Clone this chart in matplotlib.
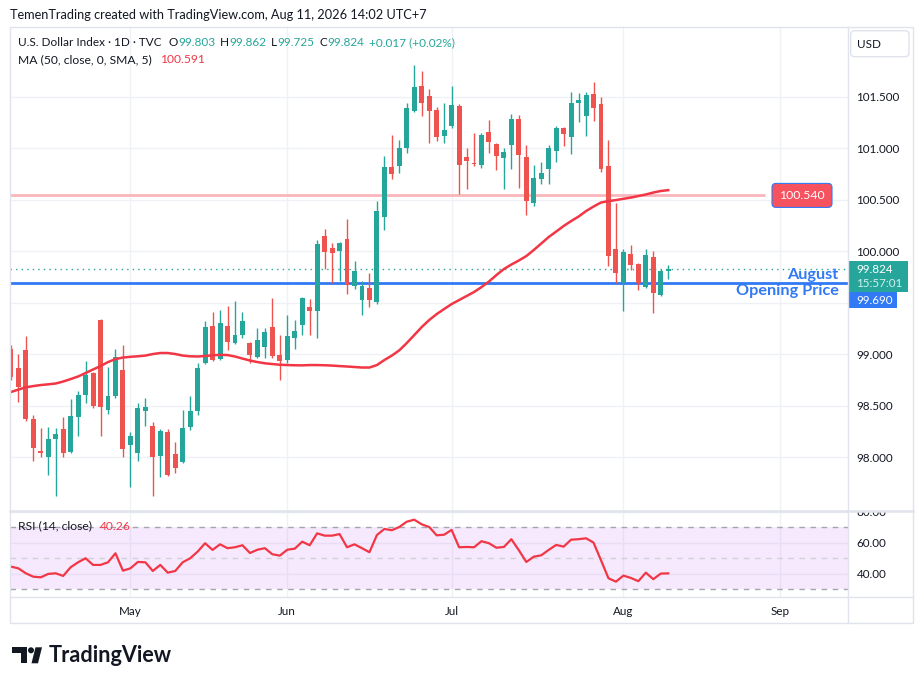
import numpy as np
import pandas as pd
import matplotlib
matplotlib.use('Agg')
import matplotlib.pyplot as plt
from matplotlib.patches import Rectangle, FancyBboxPatch, Circle, Polygon

plt.rcParams['font.family'] = ['Lato', 'DejaVu Sans']

# daily candles, U.S. Dollar Index (TVC), 9 Apr - 11 Aug 2026
dates = pd.bdate_range('2026-04-09', periods=89)
opens = [99.049, 98.864, 99.039, 98.369, 98.058, 98.000, 98.175, 98.272, 98.049, 98.388,
         98.602, 98.816, 99.330, 98.456, 98.592, 98.845, 98.117, 98.039, 98.447, 98.301,
         98.010, 98.243, 98.029, 97.951, 98.291, 98.447, 98.913, 99.272, 98.951, 99.272,
         99.107, 99.184, 99.107, 98.971, 99.068, 99.262, 98.990, 98.942, 99.155, 99.282,
         99.456, 99.417, 100.146, 100.029, 100.000, 100.117, 99.660, 99.524, 99.641, 99.505,
         100.330, 100.816, 100.825, 101.000, 101.359, 101.602, 101.505, 101.369, 101.117, 101.214,
         101.408, 100.913, 100.854, 100.835, 101.155, 101.039, 100.903, 101.029, 101.282, 100.913,
         100.466, 100.699, 100.796, 100.971, 101.194, 101.107, 101.437, 101.311, 101.524, 101.427,
         100.825, 100.019, 99.689, 99.971, 99.874, 99.650, 99.942, 99.573, 99.803]
highs = [99.087, 99.000, 99.175, 98.408, 98.282, 98.291, 98.282, 98.388, 98.563, 98.641,
         98.932, 98.825, 99.340, 98.874, 99.049, 99.087, 98.243, 98.524, 98.573, 98.340,
         98.272, 98.272, 98.146, 98.456, 98.592, 98.913, 99.320, 99.408, 99.427, 99.466,
         99.515, 99.408, 99.117, 99.252, 99.252, 99.544, 99.184, 99.379, 99.330, 99.553,
         99.534, 100.107, 100.214, 100.078, 100.087, 100.311, 99.903, 99.709, 99.786, 100.485,
         100.922, 101.126, 101.078, 101.437, 101.806, 101.748, 101.573, 101.398, 101.437, 101.602,
         101.427, 101.000, 101.146, 101.146, 101.272, 101.045, 101.000, 101.330, 101.320, 101.029,
         100.835, 100.864, 101.029, 101.214, 101.204, 101.544, 101.534, 101.544, 101.641, 101.495,
         101.078, 100.466, 100.019, 100.058, 99.880, 100.019, 100.000, 99.825, 99.862]
lows = [98.748, 98.534, 98.350, 97.961, 98.000, 97.825, 97.621, 98.000, 98.039, 98.204,
        98.524, 98.476, 98.204, 98.417, 98.573, 98.000, 97.709, 97.961, 98.301, 97.621,
        97.806, 97.816, 97.845, 97.942, 98.262, 98.408, 98.903, 98.932, 98.942, 99.039,
        99.097, 99.155, 98.913, 98.961, 98.961, 98.961, 98.748, 98.913, 99.049, 99.184,
        99.184, 99.155, 99.825, 99.689, 99.709, 99.583, 99.631, 99.379, 99.456, 99.485,
        100.204, 100.699, 100.757, 100.951, 101.350, 101.311, 101.049, 101.068, 101.049, 101.194,
        100.553, 100.602, 100.825, 100.806, 100.951, 100.786, 100.602, 100.796, 100.612, 100.350,
        100.437, 100.650, 100.650, 100.864, 101.019, 100.942, 101.252, 101.117, 101.262, 100.767,
        99.854, 99.689, 99.417, 99.816, 99.621, 99.641, 99.398, 99.563, 99.725]
closes = [98.777, 98.680, 98.369, 98.087, 98.039, 98.175, 98.223, 98.039, 98.398, 98.602,
          98.796, 98.495, 98.485, 98.592, 98.971, 98.078, 98.204, 98.476, 98.485, 98.000,
          98.252, 97.825, 97.893, 98.282, 98.447, 98.864, 99.262, 98.942, 99.301, 99.117,
          99.184, 99.320, 98.990, 99.136, 99.214, 98.981, 98.932, 99.175, 99.223, 99.544,
          99.417, 100.068, 99.990, 99.981, 100.078, 99.670, 99.806, 99.660, 99.524, 100.388,
          100.816, 100.748, 101.000, 101.388, 101.592, 101.437, 101.359, 101.107, 101.175, 101.417,
          100.835, 100.874, 100.845, 101.126, 101.058, 100.922, 100.961, 101.282, 100.932, 100.485,
          100.709, 100.757, 101.000, 101.194, 101.136, 101.437, 101.466, 101.515, 101.388, 100.796,
          99.951, 99.786, 99.990, 99.864, 99.689, 99.961, 99.592, 99.807, 99.824]
ma50 = [98.631, 98.655, 98.677, 98.689, 98.699, 98.706, 98.714, 98.733, 98.757, 98.782,
        98.816, 98.850, 98.883, 98.922, 98.951, 98.966, 98.973, 98.978, 98.985, 99.000,
        99.010, 99.010, 99.000, 98.985, 98.978, 98.976, 98.981, 98.988, 98.992, 98.990,
        98.976, 98.956, 98.937, 98.922, 98.910, 98.903, 98.896, 98.893, 98.891, 98.890,
        98.893, 98.893, 98.891, 98.888, 98.883, 98.879, 98.874, 98.869, 98.869, 98.893,
        98.942, 98.985, 99.036, 99.107, 99.184, 99.262, 99.330, 99.388, 99.437, 99.485,
        99.524, 99.563, 99.602, 99.650, 99.704, 99.767, 99.825, 99.869, 99.908, 99.951,
        100.010, 100.073, 100.136, 100.189, 100.243, 100.291, 100.335, 100.388, 100.432, 100.471,
        100.485, 100.495, 100.507, 100.519, 100.534, 100.549, 100.568, 100.583, 100.591]
rsi14 = [44.6, 43.5, 40.3, 38.1, 37.7, 39.9, 40.3, 38.6, 44.2, 47.4,
         50.0, 45.7, 45.7, 47.4, 53.2, 42.0, 43.5, 47.6, 47.4, 41.8,
         45.7, 40.7, 41.8, 47.4, 50.0, 54.3, 59.7, 55.4, 59.0, 56.5,
         57.1, 58.4, 53.4, 55.5, 56.5, 52.6, 51.7, 55.5, 56.2, 60.7,
         58.4, 66.1, 64.6, 64.6, 65.6, 57.1, 59.0, 56.5, 53.9, 65.0,
         68.9, 68.1, 70.2, 73.6, 74.9, 71.9, 70.2, 64.8, 65.2, 68.3,
         57.1, 57.3, 57.1, 61.0, 59.7, 56.8, 57.3, 62.3, 55.2, 47.6,
         51.0, 51.9, 55.4, 58.6, 57.5, 62.0, 62.3, 62.9, 60.1, 48.7,
         37.1, 34.9, 38.8, 37.3, 35.2, 40.7, 36.5, 40.1, 40.26]

month_labels = ['May', 'Jun', 'Jul', 'Aug', 'Sep']
month_starts = ['2026-05-01', '2026-06-01', '2026-07-01', '2026-08-03', '2026-09-01']
price_ticks = [98.0, 98.5, 99.0, 99.5, 100.0, 100.5, 101.0, 101.5]
rsi_ticks = [40, 60, 80]
hline_level = 100.540
aug_open = 99.690
last_price = 99.824

UP, DOWN = '#26a69a', '#ef5350'
RED = '#f23645'
BLUE = '#3179f5'
TXT = '#131722'
GRID = '#eff1f5'
FRAME = '#e0e3eb'
W, H = 923, 685


def fig_rect(x0, y0, x1, y1):
    return [x0 / W, 1 - y1 / H, (x1 - x0) / W, (y1 - y0) / H]


fig = plt.figure(figsize=(W / 100, H / 100), dpi=100)
ax = fig.add_axes(fig_rect(10, 26.7, 847.5, 510.7))
ax2 = fig.add_axes(fig_rect(10, 510.7, 847.5, 597.3))

x = np.arange(len(closes))
o, h, l, c = map(np.array, (opens, highs, lows, closes))
cols = np.where(c >= o, UP, DOWN)
full_days = pd.bdate_range(dates[0], '2026-09-30')
month_pos = [full_days.get_loc(pd.Timestamp(d)) for d in month_starts]

# ---- price panel
ax.axhline(aug_open, color=BLUE, lw=2, zorder=2)
ax.axhline(last_price, color=UP, lw=1, ls=(0, (1, 3)), zorder=2)
ax.hlines(hline_level, -0.12, 100.9, color='#f9b6bb', lw=2, zorder=2)
ax.vlines(x, l, h, colors=cols, lw=1, zorder=3)
ax.bar(x, np.maximum(np.abs(c - o), 0.008), bottom=np.minimum(o, c), width=0.66,
       color=cols, linewidth=0, zorder=4)
ax.plot(x, ma50, color=RED, lw=1.8, zorder=5)

ax.set_xlim(-0.12, 112)
ax.set_ylim(97.479, 102.178)
ax.set_yticks(price_ticks)
ax.set_yticklabels(['' if t == 99.5 else f'{t:.3f}' for t in price_ticks])
ax.yaxis.tick_right()
ax.set_xticks(month_pos)
ax.tick_params(axis='x', length=0, labelbottom=False)
ax.tick_params(axis='y', length=0, pad=6.5, labelsize=8.4, labelcolor=TXT)
ax.grid(True, color=GRID, lw=1)
ax.set_axisbelow(True)
for s in ax.spines.values():
    s.set_visible(False)

# ---- RSI panel
ax2.axhspan(30, 70, fc='#b33cf0', alpha=0.11, lw=0, zorder=1)
ax2.axhline(70, color='#a3a6ae', lw=1, ls=(0, (4, 4)), zorder=2)
ax2.axhline(30, color='#a3a6ae', lw=1, ls=(0, (4, 4)), zorder=2)
ax2.axhline(50, color='#cfd1d6', lw=1, ls=(0, (4, 4)), zorder=2)
ax2.plot(x, rsi14, color=RED, lw=1.6, zorder=5)
ax2.set_xlim(-0.12, 112)
ax2.set_ylim(24.8, 80.7)
ax2.set_yticks(rsi_ticks)
ax2.set_yticklabels([f'{t:.2f}' for t in rsi_ticks])
ax2.yaxis.tick_right()
ax2.set_xticks(month_pos)
ax2.set_xticklabels(month_labels)
ax2.tick_params(axis='x', length=0, pad=6, labelsize=8.4, labelcolor=TXT)
ax2.tick_params(axis='y', length=0, pad=6.5, labelsize=8.4, labelcolor=TXT)
ax2.grid(True, color=GRID, lw=1)
ax2.set_axisbelow(True)
for s in ax2.spines.values():
    s.set_visible(False)

# ---- overlay in pixel units for frame, labels and branding
ov = fig.add_axes([0, 0, 1, 1])
ov.set_xlim(0, W)
ov.set_ylim(H, 0)
ov.axis('off')
ov.patch.set_visible(False)


def px_y(axis, value):
    return H - axis.transData.transform((0, value))[1]


ov.add_patch(Rectangle((848, 495), 64, 15.5, fc='white', ec='none'))
ov.add_patch(Rectangle((10, 26.7), 902.7, 596.6, fill=False, ec=FRAME, lw=1))
ov.plot([847.5, 847.5], [26.7, 623.3], color=FRAME, lw=1)
ov.plot([10, 912.7], [597.3, 597.3], color=FRAME, lw=1)
ov.plot([10, 912.7], [510.7, 510.7], color=FRAME, lw=1.8)

ov.add_patch(FancyBboxPatch((850.7, 30.7), 58.3, 26, boxstyle='round,pad=0,rounding_size=4',
                            fc='white', ec=FRAME, lw=1))
ov.text(857, 44, 'USD', color=TXT, fontsize=8.4, va='center')

renderer = fig.canvas.get_renderer()


def row(x0, y0, parts, size=8.7):
    for s, col, gap in parts:
        t = ov.text(x0, y0, s, color=col, fontsize=size, va='center', ha='left')
        x0 += t.get_window_extent(renderer).width + gap


chg = closes[-1] - closes[-2]
row(10, 15, [('TemenTrading created with TradingView.com, Aug 11, 2026 14:02 UTC+7', TXT, 0)], size=9.2)
row(18, 42.7, [('U.S. Dollar Index · 1D · TVC', TXT, 7),
               ('O', TXT, 0.5), (f'{opens[-1]:.3f}', UP, 4.5),
               ('H', TXT, 0.5), (f'{highs[-1]:.3f}', UP, 4.5),
               ('L', TXT, 0.5), (f'{lows[-1]:.3f}', UP, 4.5),
               ('C', TXT, 0.5), (f'{closes[-1]:.3f}', UP, 4.5),
               (f'+{chg:.3f} (+{chg / closes[-2] * 100:.2f}%)', UP, 0)], size=8.5)
row(18, 59.3, [('MA (50, close, 0, SMA, 5)', TXT, 8), (f'{ma50[-1]:.3f}', RED, 0)])
row(18, 526, [('RSI (14, close)', TXT, 8), (f'{rsi14[-1]:.2f}', RED, 0)])

# horizontal line label
yp = px_y(ax, hline_level)
ov.add_patch(FancyBboxPatch((772, yp - 12), 60, 24, boxstyle='round,pad=0,rounding_size=4',
                            fc='#f7525f', ec=BLUE, lw=0.8))
ov.text(802, yp, f'{hline_level:.3f}', color='white', fontsize=8.8, ha='center', va='center')

# last price and august open on the price scale
yl = px_y(ax, last_price)
ov.add_patch(Rectangle((847.7, yl - 8), 60, 31, fc=UP, ec='none'))
ov.text(856.5, yl, f'{last_price:.3f}', color='white', fontsize=8.4, va='center')
ov.text(856.5, yl + 14.5, '15:57:01', color='#d2efeb', fontsize=8.4, va='center')
yb = yl + 23
ov.add_patch(Rectangle((847.7, yb), 49, 16, fc=BLUE, ec='none'))
ov.text(856.5, yb + 8, f'{aug_open:.3f}', color='white', fontsize=8.4, va='center')

ya = px_y(ax, aug_open)
ov.text(838.5, ya - 7.5, 'August', color=BLUE, fontsize=11.7, fontweight='bold', ha='right', va='center')
ov.text(838.5, ya + 8.5, 'Opening Price', color=BLUE, fontsize=11.7, fontweight='bold', ha='right', va='center')

# TradingView logo
ov.add_patch(Rectangle((12.3, 647.3), 15, 6, fc=TXT, ec='none'))
ov.add_patch(Rectangle((20.5, 647.3), 6.8, 16, fc=TXT, ec='none'))
ov.add_patch(Circle((31, 650.3), 3, fc=TXT, ec='none'))
ov.add_patch(Polygon([(31.5, 663.3), (38, 663.3), (42, 647.3), (35.5, 647.3)], fc=TXT, ec='none'))
ov.text(49, 662.5, 'TradingView', color=TXT, fontsize=15.6, fontweight='bold', va='baseline')

fig.savefig('out.png', dpi=100)
